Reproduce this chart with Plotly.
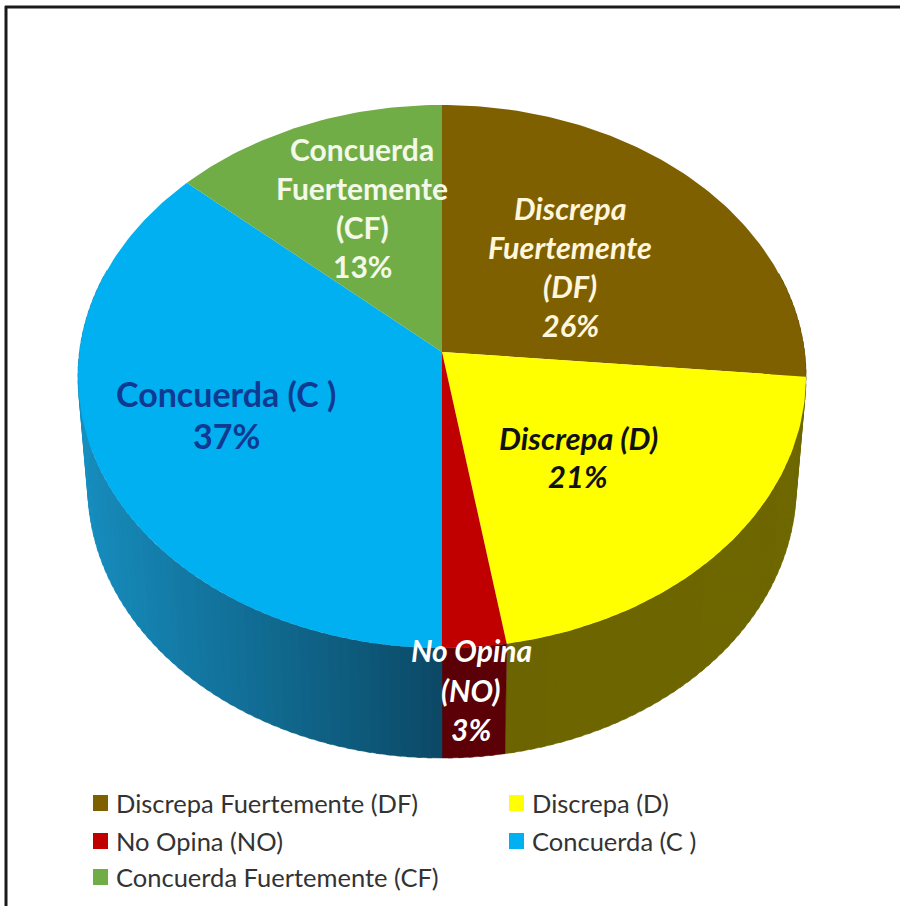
import math
import plotly.graph_objects as go

# ---- data ----
categories = ["Discrepa Fuertemente (DF)", "Discrepa (D)", "No Opina (NO)", "Concuerda (C )", "Concuerda Fuertemente (CF)"]
values = [26.45, 20.95, 2.6, 36.6, 13.4]
top_colors = ["#7f6000", "#ffff00", "#c00000", "#00b0f0", "#70ad47"]
label_names = [["Discrepa", "Fuertemente", "(DF)"], ["Discrepa (D)"], ["No Opina", "(NO)"], ["Concuerda (C )"], ["Concuerda", "Fuertemente", "(CF)"]]
wall_near = ["#5f4800", "#6a6300", "#5a0006", "#0b4763", "#4f7a32"]   # colour at the front of the pie
wall_far = ["#5f4800", "#6f6800", "#5a0006", "#178fc0", "#4f7a32"]    # colour at the sides of the pie

# ---- layout constants (pixels) ----
W, H = 900, 906
CX, CY, SX, K, C_P = 442, 352, 362.5, 269.3, 0.0902
DEPTH, SHRINK = 110, 0.973
label_style = [
    dict(x=570, y=208, step=39, size=30.5, color="#fff6dc", bold=True, italic=True),
    dict(x=578, y=438, step=38, size=31, color="#111111", bold=True, italic=True),
    dict(x=471, y=650, step=39.5, size=30, color="#ffffff", bold=True, italic=True),
    dict(x=226, y=393, step=42, size=34, color="#0f3a92", bold=True, italic=False),
    dict(x=362, y=149, step=39, size=30, color="#f4f8e8", bold=True, italic=False),
]
legend_pos = [(100, 803), (516, 803), (100, 841), (516, 841), (100, 877)]
FONT = "Lato, Carlito, sans-serif"


def rim(theta):
    """Perspective projection of a point on the unit circle (clockwise from top)."""
    x, y = math.sin(theta), math.cos(theta)
    d = 1 + C_P * y
    return CX + SX * x / d, CY - K * y / d


def lerp_hex(a, b, t):
    pa = [int(a[i:i + 2], 16) for i in (1, 3, 5)]
    pb = [int(b[i:i + 2], 16) for i in (1, 3, 5)]
    return "rgb(" + ",".join(str(round(p + (q - p) * t)) for p, q in zip(pa, pb)) + ")"


fig = go.Figure()
total = sum(values)
edges = [0.0]
for v in values:
    edges.append(edges[-1] + v / total * 2 * math.pi)

# side wall, drawn as narrow strips so the shading can vary
for i in range(len(values)):
    a0, a1 = edges[i], edges[i + 1]
    n = max(2, int((a1 - a0) / math.radians(1.5)))
    for j in range(n):
        t0 = a0 + (a1 - a0) * j / n
        t1 = a0 + (a1 - a0) * (j + 1) / n
        if j < n - 1:
            t1 += 0.012
        if math.cos((t0 + t1) / 2) > 0.3:
            continue
        p0, p1 = rim(t0), rim(t1)
        xs = [p0[0], p1[0], CX + (p1[0] - CX) * SHRINK, CX + (p0[0] - CX) * SHRINK, p0[0]]
        ys = [p0[1], p1[1], p1[1] + DEPTH, p0[1] + DEPTH, p0[1]]
        shade = min(1.0, abs(math.sin((t0 + t1) / 2)) ** 0.9)
        col = lerp_hex(wall_near[i], wall_far[i], shade)
        fig.add_trace(go.Scatter(x=xs, y=ys, mode="lines", fill="toself", fillcolor=col,
                                 line=dict(width=0.5, color=col), hoverinfo="skip", showlegend=False))

# top face
for i, name in enumerate(categories):
    a0, a1 = edges[i], edges[i + 1]
    n = max(8, int((a1 - a0) / math.radians(1)))
    pts = [rim(a0 + (a1 - a0) * j / n) for j in range(n + 1)]
    xs = [CX] + [p[0] for p in pts] + [CX]
    ys = [CY] + [p[1] for p in pts] + [CY]
    fig.add_trace(go.Scatter(x=xs, y=ys, mode="lines", fill="toself", fillcolor=top_colors[i], name=name,
                             line=dict(width=0, color=top_colors[i]), showlegend=False,
                             text=f"{name}: {round(values[i])}%", hoverinfo="text"))

annotations = []
for names, v, st in zip(label_names, values, label_style):
    lines = names + [f"{round(v)}%"]
    for k, line in enumerate(lines):
        t = line
        if st["bold"]:
            t = f"<b>{t}</b>"
        if st["italic"]:
            t = f"<i>{t}</i>"
        annotations.append(dict(x=st["x"], y=st["y"] + k * st["step"], xref="x", yref="y", text=t, showarrow=False,
                                xanchor="center", yanchor="middle",
                                font=dict(family=FONT, size=st["size"], color=st["color"])))

shapes = [
    dict(type="line", xref="x", yref="y", x0=6, x1=6, y0=6, y1=H, line=dict(color="#1a1a1a", width=3)),
    dict(type="line", xref="x", yref="y", x0=5, x1=W, y0=7, y1=7, line=dict(color="#1a1a1a", width=3)),
]
for name, col, (lx, ly) in zip(categories, top_colors, legend_pos):
    shapes.append(dict(type="rect", xref="x", yref="y", x0=lx - 7, x1=lx + 8, y0=ly - 8, y1=ly + 8,
                       fillcolor=col, line=dict(width=0)))
    annotations.append(dict(x=lx + 14, y=ly, xref="x", yref="y", text=name, showarrow=False,
                            xanchor="left", yanchor="middle",
                            font=dict(family=FONT, size=25.5, color="#333333")))

fig.update_layout(
    width=W, height=H, margin=dict(l=0, r=0, t=0, b=0), autosize=False,
    paper_bgcolor="white", plot_bgcolor="white", showlegend=False,
    xaxis=dict(range=[0, W], visible=False, fixedrange=True),
    yaxis=dict(range=[H, 0], visible=False, fixedrange=True),
    shapes=shapes, annotations=annotations,
)
fig.write_html("out.html", config={"displayModeBar": False},
               post_script="document.body.style.margin='0';document.body.style.overflow='hidden';")
